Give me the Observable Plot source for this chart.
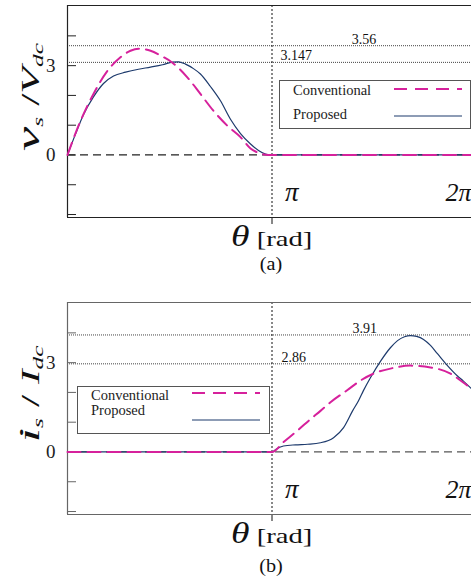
<!DOCTYPE html>
<html><head><meta charset="utf-8">
<script src="https://cdn.jsdelivr.net/npm/d3@7"></script>
<script src="https://cdn.jsdelivr.net/npm/@observablehq/plot@0.6"></script>
<style>
body{margin:0;background:#fff;font-family:"Liberation Serif","Times New Roman",serif;}
#root{position:relative;width:471px;height:587px;overflow:hidden;background:#fff;}
.abs{position:absolute;white-space:nowrap;line-height:1;color:#111;}
.ytitle{transform:translate(-50%,-50%) rotate(-90deg) scaleX(1.75);font-size:25px;}
.ytitle .sub{font-size:0.58em;position:relative;top:0.25em;font-style:italic;}
.xtitle{font-size:22px;transform:scaleX(1.3);transform-origin:0 0;}
.xtitle i{font-size:29px;}
.cap{font-size:18px;transform:translateX(-50%) scaleX(1.12);}
.lgbox{position:absolute;border:1px solid #555;box-sizing:border-box;background:#fff;}
.lgtxt{position:absolute;white-space:nowrap;line-height:0.9;font-size:14.5px;color:#222;}
svg.sample{position:absolute;overflow:visible;}
</style></head>
<body><div id="root"></div>
<script>
const PI = Math.PI;

// ---- Panel (a): v_s / V_dc  (theta given in units of pi) ----
const convA_theta = [0, 0.064, 0.127, 0.196, 0.259, 0.308, 0.347, 0.406, 0.455, 0.513, 0.587, 0.650, 0.714, 0.782, 0.846, 0.895, 0.934, 0.968, 1.0, 1.976];
const convA_value = [0, 1.15, 2.05, 2.83, 3.28, 3.5, 3.57, 3.5, 3.34, 3.1, 2.6, 2.05, 1.48, 0.98, 0.6, 0.22, 0.07, 0.01, 0, 0];
const propA_theta = [0, 0.039, 0.078, 0.127, 0.176, 0.225, 0.284, 0.347, 0.406, 0.465, 0.513, 0.543, 0.577, 0.616, 0.650, 0.699, 0.748, 0.797, 0.846, 0.895, 0.934, 0.968, 1.0, 1.976];
const propA_value = [0, 0.7, 1.35, 1.95, 2.4, 2.65, 2.78, 2.88, 2.95, 3.03, 3.12, 3.13, 3.05, 2.9, 2.72, 2.3, 1.82, 1.2, 0.72, 0.37, 0.15, 0.03, 0, 0];
const refA_level = [3.67, 3.11];
const refA_label = ["3.56", "3.147"];
const refA_at = [1.39, 1.042];

// ---- Panel (b): i_s / I_dc ----
const convB_theta = [0, 1.0, 1.056, 1.125, 1.188, 1.237, 1.286, 1.369, 1.433, 1.496, 1.579, 1.677, 1.775, 1.873, 1.922, 1.976];
const convB_value = [0, 0, 0.33, 0.72, 1.1, 1.38, 1.67, 2.08, 2.4, 2.63, 2.8, 2.9, 2.84, 2.63, 2.4, 2.12];
const propB_theta = [0, 1.0, 1.022, 1.056, 1.115, 1.174, 1.237, 1.301, 1.350, 1.394, 1.423, 1.447, 1.482, 1.531, 1.579, 1.614, 1.648, 1.677, 1.707, 1.741, 1.775, 1.809, 1.858, 1.907, 1.936, 1.976];
const propB_value = [0, 0, 0.1, 0.2, 0.24, 0.26, 0.31, 0.48, 0.82, 1.38, 1.72, 2.06, 2.5, 3.05, 3.5, 3.74, 3.87, 3.91, 3.88, 3.78, 3.58, 3.3, 2.9, 2.55, 2.38, 2.12];
const refB_level = [3.93, 2.96];
const refB_label = ["3.91", "2.86"];
const refB_at = [1.394, 1.046];

// ---- shared ----
const yTicks = [-2, -1, 0, 1, 2, 3, 4];
const yTickLabels = [0, 3];
const yDomain = [-2.1, 5.02];
const piLabels = ["π", "2π"];
const seriesNames = ["Conventional", "Proposed"];

const CONV = "#d6219c", PROP = "#1d3a6c";
const rows = (t, v) => t.map((d, i) => ({theta: d * PI, value: v[i]}));
const refRows = (lv, lb, at) => lv.map((d, i) => ({level: d, label: lb[i], at: at[i] * PI}));

function panel({conv, prop, refs, frame, zero}) {
  const piRows = piLabels.map((label, i) => ({x: (i + 1) * PI, label}));
  return Plot.plot({
    width: 471, height: 230,
    marginLeft: 67, marginRight: -5, marginTop: 5, marginBottom: 13,
    x: {domain: [0, 2 * PI], axis: null},
    y: {domain: yDomain, axis: null},
    style: {fontFamily: "'Liberation Serif', 'Times New Roman', serif", background: "transparent", color: frame, overflow: "hidden"},
    marks: [
      Plot.ruleY(refs, {y: "level", stroke: "#444", strokeDasharray: "1,1"}),
      Plot.ruleY([0], {stroke: zero, strokeWidth: 1.2, strokeDasharray: "8,5"}),
      Plot.ruleX([PI], {stroke: "#111", strokeDasharray: "2,2"}),
      Plot.axisX({ticks: [PI], tickSize: 7, tickFormat: () => "", stroke: "#111"}),
      Plot.axisY({ticks: yTicks, tickSize: 9, dx: 9, tickFormat: () => ""}),
      Plot.axisY({ticks: yTickLabels, tickSize: 0, tickPadding: 12, fontSize: 19, fill: "#222"}),
      Plot.ruleX([0], {stroke: frame, strokeWidth: 1.2}),
      Plot.ruleY(yDomain, {stroke: frame, strokeWidth: 1.2}),
      Plot.line(prop, {x: "theta", y: "value", stroke: PROP, strokeWidth: 1.2, curve: "monotone-x"}),
      Plot.line(conv, {x: "theta", y: "value", stroke: CONV, strokeWidth: 2, strokeDasharray: "13,7", curve: "monotone-x"}),
      Plot.text(refs, {x: "at", y: "level", text: "label", textAnchor: "start", lineAnchor: "bottom", dy: -2, fontSize: 14, fill: "#111"}),
      Plot.text(piRows.slice(0, 1), {x: "x", text: "label", frameAnchor: "bottom", textAnchor: "start", lineAnchor: "bottom", dx: 13, dy: -17, fontSize: 27, fontStyle: "italic", fill: "#111"}),
      Plot.text(piRows.slice(1), {x: "x", text: "label", frameAnchor: "bottom", textAnchor: "end", lineAnchor: "bottom", dx: -5, dy: -17, fontSize: 26, fontStyle: "italic", fill: "#111"})
    ]
  });
}

const root = document.getElementById("root");
function place(el, left, top) {
  const w = document.createElement("div");
  w.style.position = "absolute"; w.style.left = left + "px"; w.style.top = top + "px";
  w.appendChild(el); root.appendChild(w);
}
place(panel({conv: rows(convA_theta, convA_value), prop: rows(propA_theta, propA_value), refs: refRows(refA_level, refA_label, refA_at), frame: "#222", zero: "#222"}), 0, 0);
place(panel({conv: rows(convB_theta, convB_value), prop: rows(propB_theta, propB_value), refs: refRows(refB_level, refB_label, refB_at), frame: "#666", zero: "#555"}), 0, 297);

function html(s) { root.insertAdjacentHTML("beforeend", s); }
// axis titles and captions
html(`<div class="abs ytitle" style="left:29px;top:97px"><i style="font-size:1.25em">v</i><span class="sub">s</span> /<i>V</i><span class="sub">dc</span></div>`);
html(`<div class="abs ytitle" style="left:29px;top:394px"><i style="font-size:1.2em">i</i><span class="sub">s</span> / <i>I</i><span class="sub">dc</span></div>`);
html(`<div class="abs xtitle" style="left:231px;top:222px"><i>θ</i> [rad]</div>`);
html(`<div class="abs xtitle" style="left:231px;top:519px"><i>θ</i> [rad]</div>`);
html(`<div class="abs cap" style="left:271px;top:255px">(a)</div>`);
html(`<div class="abs cap" style="left:271px;top:557px">(b)</div>`);

// legends
function legend(box, textTops, sampleYs, x0, x1) {
  html(`<div class="lgbox" style="left:${box[0]}px;top:${box[1]}px;width:${box[2]}px;height:${box[3]}px"></div>`);
  seriesNames.forEach((name, i) => {
    html(`<div class="lgtxt" style="left:${box[0] + 14}px;top:${textTops[i]}px">${name}</div>`);
    const dash = i === 0 ? `stroke="${CONV}" stroke-width="2" stroke-dasharray="13,8"` : `stroke="${PROP}" stroke-width="1.2"`;
    html(`<svg class="sample" style="left:${x0}px;top:${sampleYs[i] - 3}px" width="${x1 - x0}" height="6"><line x1="0" y1="3" x2="${x1 - x0}" y2="3" ${dash}/></svg>`);
  });
}
legend([279, 80, 192, 49], [84, 108], [89, 116], 394, 462);
legend([77, 386, 193, 48], [389, 403.5], [393, 420], 192, 260);
</script>
</body></html>
